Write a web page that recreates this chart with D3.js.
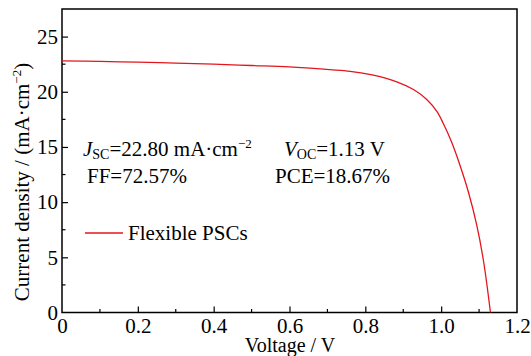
<!DOCTYPE html>
<html>
<head>
<meta charset="utf-8">
<script src="https://cdn.jsdelivr.net/npm/d3@7"></script>
<style>
  body { margin: 0; background: #fff; }
  text { font-family: "Liberation Serif", "DejaVu Serif", serif; fill: #000; }
</style>
</head>
<body>
<svg id="chart" width="531" height="356"></svg>
<script>
(function() {
  'use strict';

  // J-V curve
  var voltage = [0, 0.1, 0.2, 0.3, 0.4, 0.5, 0.6, 0.707, 0.76, 0.821, 0.883, 0.927,
                 0.962, 0.989, 1.006, 1.028, 1.05, 1.072, 1.094, 1.112, 1.13];
  var current = [22.80, 22.75, 22.68, 22.6, 22.5, 22.38, 22.25, 22.0, 21.85, 21.5, 20.9, 20.2,
                 19.3, 18.2, 17.1, 15.4, 13.3, 10.9, 7.9, 4.6, 0];
  var xTicks = [0, 0.2, 0.4, 0.6, 0.8, 1.0, 1.2];
  var xTickLabels = ['0', '0.2', '0.4', '0.6', '0.8', '1.0', '1.2'];
  var yTicks = [0, 5, 10, 15, 20, 25];
  var seriesName = 'Flexible PSCs';

  var svg = d3.select('#chart');
  var m = { left: 62, right: 517, top: 9, bottom: 312.5 };
  var serif = '"Liberation Serif", "Times New Roman", serif';

  var x = d3.scaleLinear().domain([0, 1.2]).range([m.left, m.right]);
  var y = d3.scaleLinear().domain([0, 27.5]).range([m.bottom, m.top]);

  // axes, ticks pointing inward
  var xAxis = svg.append('g')
    .attr('transform', 'translate(0,' + m.bottom + ')')
    .call(d3.axisBottom(x).tickValues(xTicks).tickSizeInner(-6).tickSizeOuter(0)
      .tickPadding(6).tickFormat(function(d, i) { return xTickLabels[i]; }));
  xAxis.selectAll('.tick')
    .filter(function(d) { return d === 0 || d === 1.2; }).select('line').remove();

  var yAxis = svg.append('g')
    .attr('transform', 'translate(' + m.left + ',0)')
    .call(d3.axisLeft(y).tickValues(yTicks).tickSizeInner(-6).tickSizeOuter(0).tickPadding(4));
  yAxis.selectAll('.tick').filter(function(d) { return d === 0; }).select('line').remove();

  [xAxis, yAxis].forEach(function(g) {
    g.attr('font-family', serif).attr('font-size', 21);
    g.select('.domain').remove();
    g.selectAll('line').attr('stroke', '#000').attr('stroke-width', 1.2);
  });

  // minor ticks
  svg.append('g').selectAll('line')
    .data(d3.range(0.1, 1.2, 0.2))
    .enter().append('line')
    .attr('x1', function(d) { return x(d); }).attr('x2', function(d) { return x(d); })
    .attr('y1', m.bottom).attr('y2', m.bottom - 3.5)
    .attr('stroke', '#000').attr('stroke-width', 1.2);
  svg.append('g').selectAll('line')
    .data(d3.range(2.5, 27.5, 5))
    .enter().append('line')
    .attr('y1', function(d) { return y(d); }).attr('y2', function(d) { return y(d); })
    .attr('x1', m.left).attr('x2', m.left + 3.5)
    .attr('stroke', '#000').attr('stroke-width', 1.2);

  // frame
  svg.append('rect')
    .attr('x', m.left).attr('y', m.top)
    .attr('width', m.right - m.left).attr('height', m.bottom - m.top)
    .attr('fill', 'none').attr('stroke', '#000').attr('stroke-width', 1.5);

  // curve
  var pts = voltage.map(function(v, i) { return [v, current[i]]; });
  svg.append('path')
    .datum(pts)
    .attr('fill', 'none')
    .attr('stroke', '#e3161d')
    .attr('stroke-width', 1.3)
    .attr('d', d3.line()
      .x(function(d) { return x(d[0]); })
      .y(function(d) { return y(d[1]); })
      .curve(d3.curveCatmullRom.alpha(0.5)));

  // axis titles
  svg.append('text')
    .attr('x', 290).attr('y', 351.5)
    .attr('text-anchor', 'middle')
    .style('font-size', '20px')
    .text('Voltage / V');

  var yt = svg.append('text')
    .attr('transform', 'translate(29,182) rotate(-90)')
    .attr('text-anchor', 'middle')
    .style('font-size', '21px');
  yt.append('tspan').text('Current density / (mA\u00b7cm');
  yt.append('tspan').attr('dy', -8).style('font-size', '13px').text('\u22122');
  yt.append('tspan').attr('dy', 8).text(')');

  // annotations
  var a1 = svg.append('text').attr('x', 83).attr('y', 156).style('font-size', '21px');
  a1.append('tspan').style('font-style', 'italic').text('J');
  a1.append('tspan').attr('dy', 3).style('font-size', '14px').text('SC');
  a1.append('tspan').attr('dy', -3).text('=22.80 mA\u00b7cm');
  a1.append('tspan').attr('dy', -8).style('font-size', '13px').text('\u22122');

  var a2 = svg.append('text').attr('x', 284).attr('y', 156).style('font-size', '21px');
  a2.append('tspan').style('font-style', 'italic').text('V');
  a2.append('tspan').attr('dy', 3).style('font-size', '14px').text('OC');
  a2.append('tspan').attr('dy', -3).text('=1.13 V');

  svg.append('text').attr('x', 87).attr('y', 183).style('font-size', '21px').text('FF=72.57%');
  svg.append('text').attr('x', 275).attr('y', 183).style('font-size', '21px').text('PCE=18.67%');

  // legend
  svg.append('line')
    .attr('x1', 85).attr('x2', 123).attr('y1', 233).attr('y2', 233)
    .attr('stroke', '#e3161d').attr('stroke-width', 1.3);
  svg.append('text').attr('x', 128).attr('y', 240).style('font-size', '21px').text(seriesName);

})();
</script>
</body>
</html>
